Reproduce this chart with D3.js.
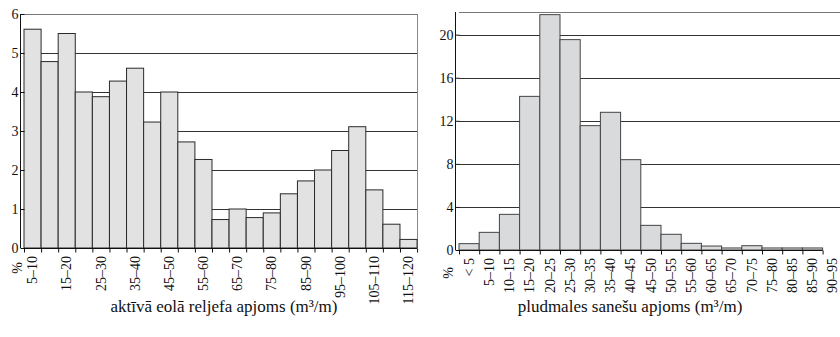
<!DOCTYPE html>
<html>
<head>
<meta charset="utf-8">
<script src="https://cdn.jsdelivr.net/npm/d3@7"></script>
</head>
<body style="margin:0">
<script>
// left panel: aktīvā eolā reljefa apjoms
var leftCats = ["5–10","10–15","15–20","20–25","25–30","30–35","35–40","40–45","45–50","50–55",
  "55–60","60–65","65–70","70–75","75–80","80–85","85–90","90–95","95–100","100–105",
  "105–110","110–115","115–120"];
var leftVals = [5.61,4.78,5.50,4.00,3.88,4.28,4.61,3.23,4.00,2.72,2.27,0.73,1.00,0.78,0.90,
  1.39,1.72,2.00,2.50,3.11,1.49,0.61,0.22];
var leftTicks = [0,1,2,3,4,5,6];

// right panel: pludmales sanešu apjoms
var rightCats = ["< 5","5–10","10–15","15–20","20–25","25–30","30–35","35–40","40–45","45–50",
  "50–55","55–60","60–65","65–70","70–75","75–80","80–85","85–90","90–95"];
var rightVals = [0.59,1.64,3.31,14.27,21.86,19.54,11.55,12.79,8.39,2.29,1.46,0.62,0.37,0.19,
  0.40,0.19,0.19,0.19];
var rightTicks = [0,4,8,12,16,20];

var svg = d3.select("body").append("svg")
  .attr("width", 840)
  .attr("height", 337)
  .style("font-family", "'Liberation Serif'");

// serif text everywhere
function serifText(sel, size) {
  sel.style("font-family", "'Liberation Serif'")
    .style("font-size", size + "px")
    .attr("fill", "#111");
}

function panel(opt) {
  var g = svg.append("g");
  var x = d3.scaleBand().domain(opt.cats).range([opt.x0, opt.x0 + opt.step * opt.cats.length]);
  var y = d3.scaleLinear().domain([0, opt.ymax]).range([opt.y0, opt.y1]);
  var xEnd = opt.x0 + opt.step * opt.vals.length;

  // grid lines
  g.selectAll(".grid").data(opt.ticks.filter(d => d > 0))
    .enter().append("line")
    .attr("x1", opt.x0).attr("x2", opt.gridEnd)
    .attr("y1", d => Math.round(y(d)) + 0.5).attr("y2", d => Math.round(y(d)) + 0.5)
    .attr("stroke", d => d === opt.ymax ? "#777" : "#333");

  if (opt.topLine) {
    g.append("line")
      .attr("x1", opt.x0).attr("x2", opt.gridEnd)
      .attr("y1", Math.round(y(opt.ymax)) + 0.5).attr("y2", Math.round(y(opt.ymax)) + 0.5)
      .attr("stroke", "#777");
  }
  if (opt.rightLine) {
    g.append("line")
      .attr("x1", opt.gridEnd + 0.5).attr("x2", opt.gridEnd + 0.5)
      .attr("y1", y(opt.ymax)).attr("y2", y(0))
      .attr("stroke", "#888");
  }

  // bars
  g.selectAll(".bar").data(opt.vals)
    .enter().append("rect")
    .attr("x", (d, i) => x(opt.cats[i]))
    .attr("width", x.bandwidth())
    .attr("y", d => y(d))
    .attr("height", d => y(0) - y(d))
    .attr("fill", opt.fill)
    .attr("stroke", opt.stroke);

  // y axis
  var yAxis = g.append("g")
    .attr("transform", `translate(${opt.x0 + 0.5},0)`)
    .call(d3.axisLeft(y).tickValues(opt.ticks).tickSize(4).tickPadding(2).tickFormat(d3.format("d")));
  yAxis.attr("font-family", null).attr("font-size", null);
  yAxis.selectAll("path, line").attr("stroke", "#111");
  serifText(yAxis.selectAll("text"), 14);
  yAxis.select(".domain").attr("d", `M-4,${y(opt.ymax)}V${y(0)}`);

  // x ticks at bin boundaries
  var xb = d3.scaleLinear().domain([0, opt.vals.length]).range([opt.x0, xEnd]);
  var xAxisB = g.append("g")
    .attr("transform", `translate(0,${opt.y0 + 0.5})`)
    .call(d3.axisBottom(xb).tickValues(d3.range(opt.vals.length + 1)).tickSize(4).tickFormat(""));
  xAxisB.selectAll("path, line").attr("stroke", "#111");
  xAxisB.select(".domain").attr("d", `M${opt.x0},0H${xEnd}`);

  // x labels, centred in each bin
  var xAxis = g.append("g")
    .attr("transform", `translate(0,${opt.y0})`)
    .call(d3.axisBottom(x).tickValues(opt.labelCats).tickSize(0));
  xAxis.attr("font-family", null).attr("font-size", null);
  xAxis.select(".domain").remove();
  serifText(xAxis.selectAll("text"), 14);
  xAxis.selectAll("text")
    .attr("transform", "rotate(-90)")
    .attr("text-anchor", "end")
    .attr("x", -8)
    .attr("y", 0)
    .attr("dy", "0.33em");

  // % label
  g.append("text")
    .attr("transform", `translate(${opt.pctX},${opt.pctY}) rotate(-90)`)
    .attr("text-anchor", "middle")
    .attr("dy", "0.35em")
    .call(serifText, 14)
    .text("%");

  // title
  g.append("text")
    .attr("x", opt.titleX)
    .attr("y", 312)
    .attr("text-anchor", "middle")
    .call(serifText, 17)
    .text(opt.title);
}

panel({
  cats: leftCats, vals: leftVals, ticks: leftTicks,
  labelCats: leftCats.filter((d, i) => i % 2 === 0),
  x0: 24, step: 17.09, y0: 248, y1: 14, ymax: 6, gridEnd: 417,
  topLine: false, rightLine: true,
  fill: "#e2e2e2", stroke: "#2a2a2a",
  pctX: 17, pctY: 268, titleX: 224,
  title: "aktīvā eolā reljefa apjoms (m³/m)"
});

panel({
  cats: rightCats, vals: rightVals, ticks: rightTicks,
  labelCats: rightCats,
  x0: 459, step: 20.2, y0: 250, y1: 34.7 - (22.1 - 20) * 10.78, ymax: 22.1, gridEnd: 840,
  topLine: true, rightLine: false,
  fill: "#d9dadc", stroke: "#444",
  pctX: 448, pctY: 273, titleX: 630,
  title: "pludmales sanešu apjoms (m³/m)"
});
</script>
</body>
</html>
